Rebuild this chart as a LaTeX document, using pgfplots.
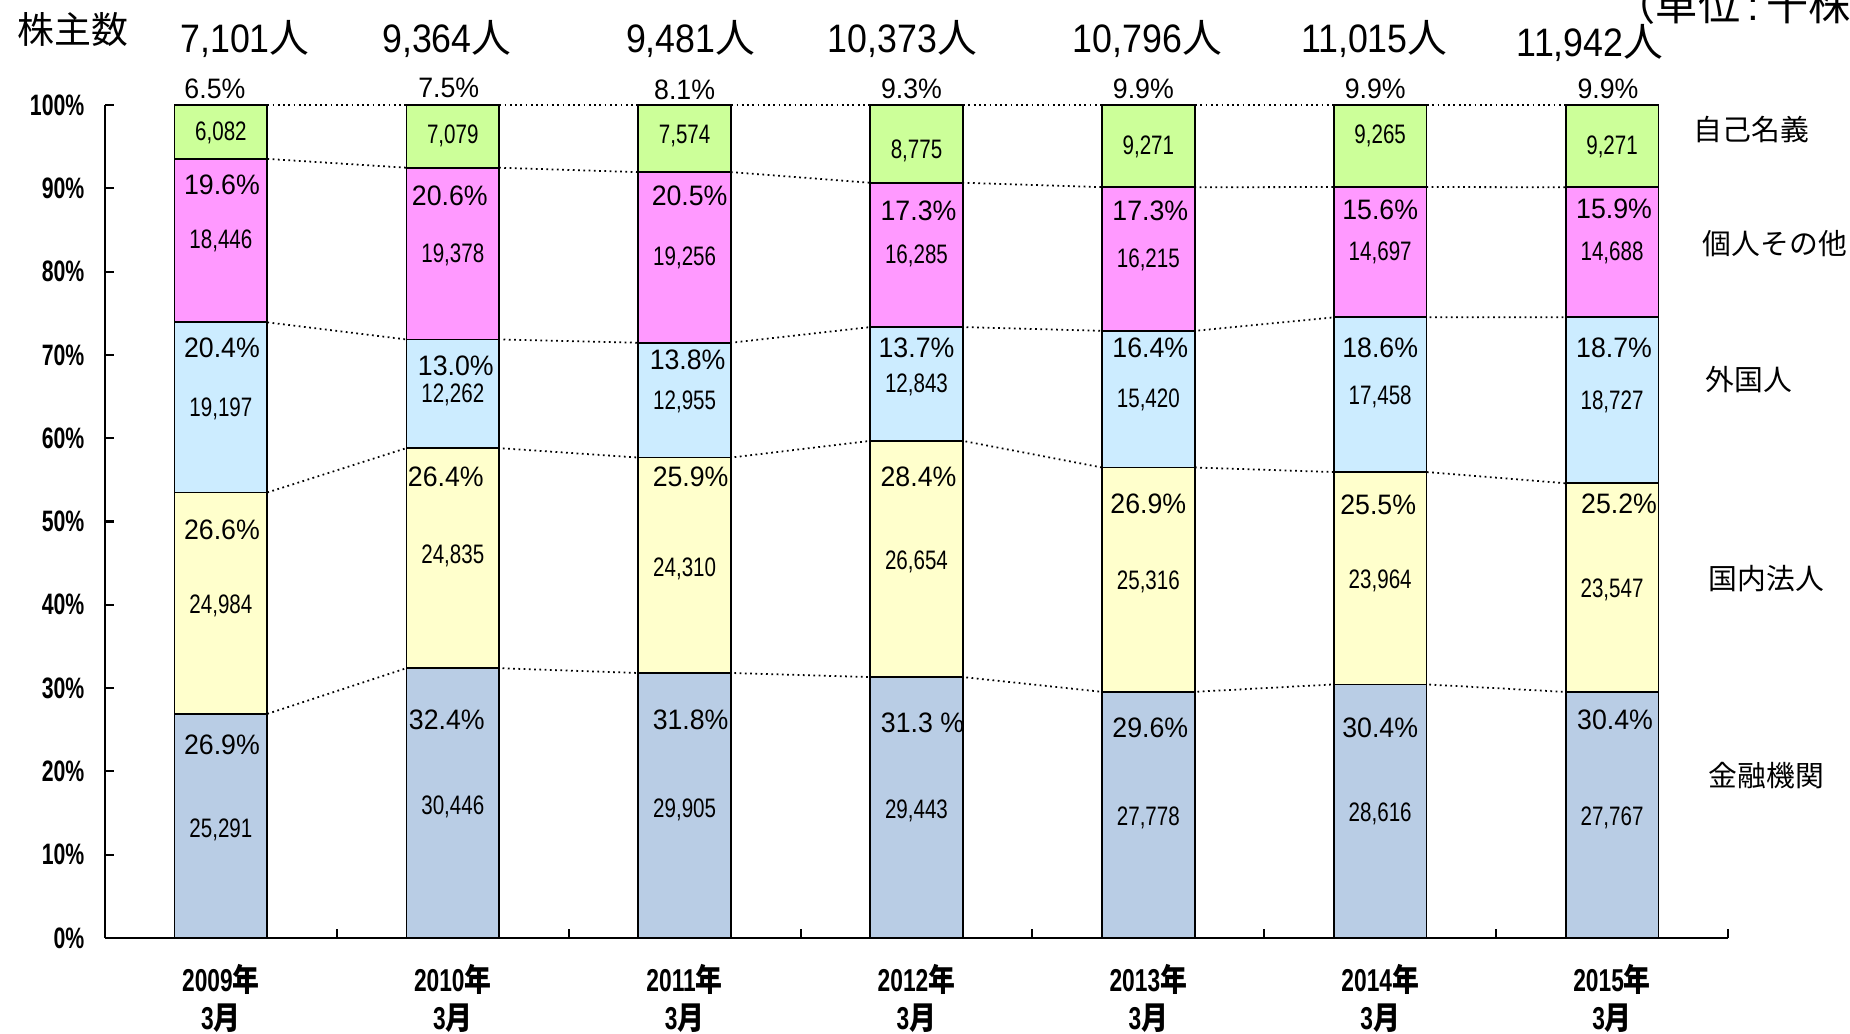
\documentclass[border=0pt]{standalone}
\usepackage{fontspec}
\usepackage{pgfplots}
\pgfplotsset{compat=1.18}
\setmainfont{Liberation Sans}
\newfontfamily\cjk{Noto Sans CJK JP}
\newfontfamily\cjkx[FakeStretch=0.85]{Noto Sans CJK JP}
\newfontfamily\pctf[FakeStretch=0.95]{Liberation Sans}
\newfontfamily\valf[FakeStretch=0.77]{Liberation Sans}
\newfontfamily\tickf[FakeStretch=0.72]{Liberation Sans}
\newfontfamily\numf[FakeStretch=0.9]{Liberation Sans}
\definecolor{cF}{RGB}{185,205,229}
\definecolor{cD}{RGB}{255,255,204}
\definecolor{cG}{RGB}{204,236,255}
\definecolor{cP}{RGB}{255,153,255}
\definecolor{cS}{RGB}{204,255,153}
\tikzset{
  pct/.style={font=\pctf\fontsize{8}{9}\selectfont, inner sep=0pt},
  val/.style={font=\valf\fontsize{7.6}{9}\selectfont, inner sep=0pt},
  cnt/.style={font=\numf\fontsize{11.3}{13}\selectfont, inner sep=0pt},
  xl/.style={font=\fontsize{9}{11}\selectfont, inner sep=0pt, anchor=base},
  rl/.style={font=\cjk\fontsize{8.2}{10}\selectfont, inner sep=0pt, anchor=west},
  dl/.style={black, densely dotted, line width=0.5pt, mark=none},
}
\newcommand\lb[5]{\node[#1,xshift={#3*0.01cm},yshift={#4*0.0833cm}] at (axis cs:#2,0) {#5};}
\newcommand\yr[2]{%
  \node[xl,yshift=-0.53cm] at (axis cs:#1,0) {{\tickf\bfseries #2}{\cjkx\bfseries 年}};
  \node[xl,yshift=-0.91cm] at (axis cs:#1,0) {{\tickf\bfseries 3}{\cjkx\bfseries 月}};}
\pgfplotsset{base/.style={at={(1.05cm,0.95cm)}, anchor=south west, scale only axis,
  width=16.23cm, height=8.33cm, xmin=-0.5, xmax=6.5, ymin=0, ymax=94000, clip=false}}
\begin{document}
\begin{tikzpicture}
\path[use as bounding box] (0,0) rectangle (18.5,10.33);
% dotted connector lines (behind bars)
\begin{axis}[base, hide axis]
\addplot[dl] coordinates {(0.2,25291)(0.8,30446)(1.2,30446)(1.8,29905)(2.2,29905)(2.8,29443)(3.2,29443)(3.8,27778)(4.2,27778)(4.8,28616)(5.2,28616)(5.8,27767)};
\addplot[dl] coordinates {(0.2,50275)(0.8,55281)(1.2,55281)(1.8,54215)(2.2,54215)(2.8,56097)(3.2,56097)(3.8,53094)(4.2,53094)(4.8,52580)(5.2,52580)(5.8,51314)};
\addplot[dl] coordinates {(0.2,69472)(0.8,67543)(1.2,67543)(1.8,67170)(2.2,67170)(2.8,68940)(3.2,68940)(3.8,68514)(4.2,68514)(4.8,70038)(5.2,70038)(5.8,70041)};
\addplot[dl] coordinates {(0.2,87918)(0.8,86921)(1.2,86921)(1.8,86426)(2.2,86426)(2.8,85225)(3.2,85225)(3.8,84729)(4.2,84729)(4.8,84735)(5.2,84735)(5.8,84729)};
\addplot[dl] coordinates {(0.2,94000)(5.8,94000)};
\end{axis}
% stacked bars
\begin{axis}[base,
  ybar stacked, bar width=0.4,
  axis x line*=bottom, axis y line*=left,
  axis line style={line width=0.7pt,-},
  tick align=inside, major tick length=0.09cm, tick style={line width=0.6pt, black},
  xtick={0.5,1.5,2.5,3.5,4.5,5.5,6.5}, xticklabels={},
  ytick={0,9400,18800,28200,37600,47000,56400,65800,75200,84600,94000},
  yticklabels={0\%,10\%,20\%,30\%,40\%,50\%,60\%,70\%,80\%,90\%,100\%},
  yticklabel style={font=\tickf\bfseries\fontsize{8.4}{10}\selectfont, inner sep=0pt, xshift=-0.2cm},
  scaled y ticks=false]
\addplot[fill=cF, draw=black, line width=0.5pt] coordinates {(0,25291)(1,30446)(2,29905)(3,29443)(4,27778)(5,28616)(6,27767)};
\addplot[fill=cD, draw=black, line width=0.5pt] coordinates {(0,24984)(1,24835)(2,24310)(3,26654)(4,25316)(5,23964)(6,23547)};
\addplot[fill=cG, draw=black, line width=0.5pt] coordinates {(0,19197)(1,12262)(2,12955)(3,12843)(4,15420)(5,17458)(6,18727)};
\addplot[fill=cP, draw=black, line width=0.5pt] coordinates {(0,18446)(1,19378)(2,19256)(3,16285)(4,16215)(5,14697)(6,14688)};
\addplot[fill=cS, draw=black, line width=0.5pt] coordinates {(0,6082)(1,7079)(2,7574)(3,8775)(4,9271)(5,9265)(6,9271)};
\end{axis}
% labels
\begin{axis}[base, hide axis]
% 2009
\lb{val}{0}{0}{96.6}{6,082}
\lb{pct}{0}{1}{90.4}{19.6\%}
\lb{val}{0}{0}{83.7}{18,446}
\lb{pct}{0}{1}{70.8}{20.4\%}
\lb{val}{0}{0}{63.5}{19,197}
\lb{pct}{0}{1}{49.0}{26.6\%}
\lb{val}{0}{0}{39.9}{24,984}
\lb{pct}{0}{1}{23.2}{26.9\%}
\lb{val}{0}{0}{13.0}{25,291}
\lb{pct}{0}{-6}{102.0}{6.5\%}
\lb{cnt}{0}{24}{107.9}{7,101{\cjk 人}}
% 2010
\lb{val}{1}{0}{96.3}{7,079}
\lb{pct}{1}{-3}{89.1}{20.6\%}
\lb{val}{1}{0}{82.0}{19,378}
\lb{pct}{1}{3}{68.7}{13.0\%}
\lb{val}{1}{0}{65.2}{12,262}
\lb{pct}{1}{-7}{55.4}{26.4\%}
\lb{val}{1}{0}{45.9}{24,835}
\lb{pct}{1}{-6}{26.2}{32.4\%}
\lb{val}{1}{0}{15.7}{30,446}
\lb{pct}{1}{-4}{102.0}{7.5\%}
\lb{cnt}{1}{-6}{107.9}{9,364{\cjk 人}}
% 2011
\lb{val}{2}{0}{96.3}{7,574}
\lb{pct}{2}{5}{89.1}{20.5\%}
\lb{val}{2}{0}{81.6}{19,256}
\lb{pct}{2}{3}{69.4}{13.8\%}
\lb{val}{2}{0}{64.4}{12,955}
\lb{pct}{2}{6}{55.4}{25.9\%}
\lb{val}{2}{0}{44.3}{24,310}
\lb{pct}{2}{6}{26.2}{31.8\%}
\lb{val}{2}{0}{15.4}{29,905}
\lb{pct}{2}{0}{101.8}{8.1\%}
\lb{cnt}{2}{6}{107.9}{9,481{\cjk 人}}
% 2012
\lb{val}{3}{0}{94.5}{8,775}
\lb{pct}{3}{2}{87.3}{17.3\%}
\lb{val}{3}{0}{81.9}{16,285}
\lb{pct}{3}{0}{70.8}{13.7\%}
\lb{val}{3}{0}{66.4}{12,843}
\lb{pct}{3}{2}{55.4}{28.4\%}
\lb{val}{3}{0}{45.2}{26,654}
\lb{pct}{3}{6}{25.8}{31.3 \%}
\lb{val}{3}{0}{15.3}{29,443}
\lb{pct}{3}{-5}{102.0}{9.3\%}
\lb{cnt}{3}{-14}{107.9}{10,373{\cjk 人}}
% 2013
\lb{val}{4}{0}{95.0}{9,271}
\lb{pct}{4}{2}{87.3}{17.3\%}
\lb{val}{4}{0}{81.4}{16,215}
\lb{pct}{4}{2}{70.8}{16.4\%}
\lb{val}{4}{0}{64.6}{15,420}
\lb{pct}{4}{0}{52.1}{26.9\%}
\lb{val}{4}{0}{42.8}{25,316}
\lb{pct}{4}{2}{25.2}{29.6\%}
\lb{val}{4}{0}{14.4}{27,778}
\lb{pct}{4}{-5}{102.0}{9.9\%}
\lb{cnt}{4}{-1}{107.9}{10,796{\cjk 人}}
% 2014
\lb{val}{5}{0}{96.3}{9,265}
\lb{pct}{5}{0}{87.4}{15.6\%}
\lb{val}{5}{0}{82.3}{14,697}
\lb{pct}{5}{0}{70.8}{18.6\%}
\lb{val}{5}{0}{65.0}{17,458}
\lb{pct}{5}{-2}{52.0}{25.5\%}
\lb{val}{5}{0}{42.9}{23,964}
\lb{pct}{5}{0}{25.2}{30.4\%}
\lb{val}{5}{0}{14.9}{28,616}
\lb{pct}{5}{-5}{102.0}{9.9\%}
\lb{cnt}{5}{-6}{107.9}{11,015{\cjk 人}}
% 2015
\lb{val}{6}{0}{95.0}{9,271}
\lb{pct}{6}{2}{87.5}{15.9\%}
\lb{val}{6}{0}{82.3}{14,688}
\lb{pct}{6}{2}{70.8}{18.7\%}
\lb{val}{6}{0}{64.4}{18,727}
\lb{pct}{6}{7}{52.1}{25.2\%}
\lb{val}{6}{0}{41.8}{23,547}
\lb{pct}{6}{3}{26.2}{30.4\%}
\lb{val}{6}{0}{14.4}{27,767}
\lb{pct}{6}{-4}{102.0}{9.9\%}
\lb{cnt}{6}{-22}{107.5}{11,942{\cjk 人}}
% x labels
\yr{0}{2009}\yr{1}{2010}\yr{2}{2011}\yr{3}{2012}\yr{4}{2013}\yr{5}{2014}\yr{6}{2015}
\end{axis}
% side / title texts
\node[font=\cjk\fontsize{10.5}{12}\selectfont, inner sep=0pt, anchor=west] at (0.165,10.035) {株主数};
\node[font=\cjk\fontsize{12}{14}\selectfont, inner sep=0pt, anchor=base west] at (16.13,10.12) {（単位{\rmfamily\,:\,}千株）};
\node[rl] at (16.93,9.03) {自己名義};
\node[rl] at (17.02,7.89) {個人その他};
\node[rl] at (17.05,6.53) {外国人};
\node[rl] at (17.08,4.54) {国内法人};
\node[rl] at (17.08,2.57) {金融機関};
\end{tikzpicture}
\end{document}
